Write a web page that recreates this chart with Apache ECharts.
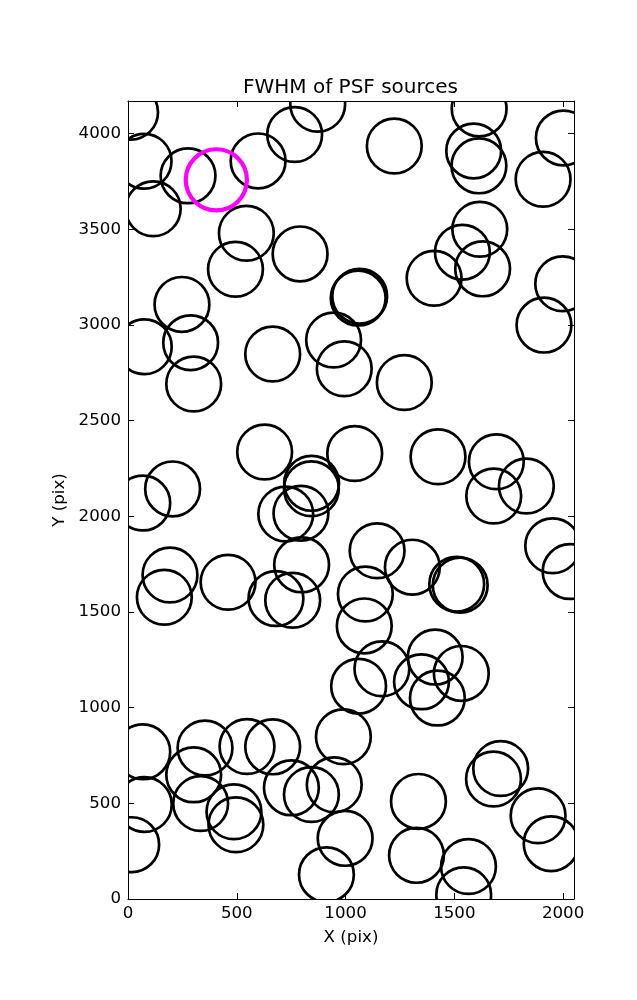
<!DOCTYPE html>
<html>
<head>
<meta charset="utf-8">
<script src="https://cdn.jsdelivr.net/npm/echarts@6/dist/echarts.min.js"></script>
<style>
  html, body { margin: 0; padding: 0; background: #fff; }
  #chart { width: 637px; height: 1000px; }
</style>
</head>
<body>
<div id="chart"></div>
<script>
// Source positions (detector pixels)
var sourceX = [12, 74, 276, 116, 598, 766, 872, 1224, 1614, 1589, 1613, 2001, 1908,
  544, 494, 791, 1617, 1537, 1630, 1407, 1058, 1065, 1998, 248, 288, 75, 302, 665, 945, 994, 1270, 1912,
  628, 1042, 1425, 1693, 1681, 1831, 205, 68, 844, 843, 725, 795, 1952, 2032, 1145, 1307, 798, 193, 167,
  460, 680, 757, 1091, 1511, 1527, 1086, 1167, 1060, 1412, 1532, 1349, 1422,
  990, 68, 354, 547, 665, 302, 75, 334, 487, 496, 17, 751, 843, 948, 998, 912, 1335, 1326, 1565, 1543,
  1713, 1680, 1885, 1945];
var sourceY = [4111, 3855, 3779, 3607, 3857, 3995, 4153, 3935, 4129, 3909, 3831, 3977, 3761,
  3479, 3291, 3371, 3500, 3380, 3293, 3244, 3140, 3150, 3215, 3107, 2907, 2886, 2691, 2848, 2921, 2771, 2699, 2999,
  2336, 2328, 2311, 2285, 2106, 2158, 2143, 2069, 2172, 2144, 2012, 2016, 1846, 1711, 1820, 1734, 1746, 1693, 1577,
  1655, 1570, 1561, 1594, 1645, 1640, 1427, 1203, 1112, 1264, 1179, 1135, 1050,
  848, 769, 789, 797, 795, 649, 494, 499, 456, 388, 284, 581, 546, 597, 317, 127, 510, 228, 170, 22,
  682, 627, 435, 289];
// Highlighted source
var flaggedX = [406];
var flaggedY = [3758];
// Axis ticks
var xTicks = [0, 500, 1000, 1500, 2000];
var yTicks = [0, 500, 1000, 1500, 2000, 2500, 3000, 3500, 4000];
var xMax = 2050, yMax = 4170;

var FONT = 'DejaVu Sans';
function pairs(xs, ys) { return xs.map(function (x, i) { return [x, ys[i]]; }); }
function ringRenderer(r, color, lw) {
  return function (params, api) {
    var p = api.coord([api.value(0), api.value(1)]);
    return { type: 'circle', shape: { cx: p[0], cy: p[1], r: r },
      style: { fill: 'none', stroke: color, lineWidth: lw } };
  };
}
function tickFmt(list) { return function (v) { return list.indexOf(v) >= 0 ? String(v) : ''; }; }

var axisLine = { show: true, onZero: false, lineStyle: { color: '#000', width: 1 } };
var tick = { show: true, inside: true, length: 6, lineStyle: { color: '#000', width: 1 } };
var label = { color: '#000', fontFamily: FONT, fontSize: 16.67 };

var chart = echarts.init(document.getElementById('chart'), null, { renderer: 'canvas' });
chart.setOption({
  animation: false,
  backgroundColor: '#fff',
  title: { text: 'FWHM of PSF sources', left: 243, top: 78, padding: 0,
    textStyle: { fontFamily: FONT, fontSize: 20, fontWeight: 'normal', color: '#000' } },
  grid: { left: 128, top: 101, width: 446, height: 798 },
  xAxis: [
    { type: 'value', position: 'bottom', min: 0, max: xMax, interval: 500,
      axisLine: axisLine, axisTick: tick, splitLine: { show: false },
      axisLabel: Object.assign({ margin: 6, showMaxLabel: false, formatter: tickFmt(xTicks) }, label),
      name: 'X (pix)', nameLocation: 'middle', nameGap: 30,
      nameTextStyle: { fontFamily: FONT, fontSize: 16.67, color: '#000' } },
    { type: 'value', position: 'top', min: 0, max: xMax, interval: 500,
      axisLine: axisLine, axisTick: tick, splitLine: { show: false }, axisLabel: { show: false } }
  ],
  yAxis: [
    { type: 'value', position: 'left', min: 0, max: yMax, interval: 500,
      axisLine: axisLine, axisTick: tick, splitLine: { show: false },
      axisLabel: Object.assign({ margin: 7, showMaxLabel: false, formatter: tickFmt(yTicks) }, label),
      name: 'Y (pix)', nameLocation: 'middle', nameGap: 53,
      nameTextStyle: { fontFamily: FONT, fontSize: 16.67, color: '#000' } },
    { type: 'value', position: 'right', min: 0, max: yMax, interval: 500,
      axisLine: axisLine, axisTick: tick, splitLine: { show: false }, axisLabel: { show: false } }
  ],
  series: [
    { type: 'custom', name: 'sources', clip: true, xAxisIndex: 0, yAxisIndex: 0,
      data: pairs(sourceX, sourceY), renderItem: ringRenderer(27.4, '#000', 2.7) },
    { type: 'custom', name: 'flagged', clip: true, xAxisIndex: 0, yAxisIndex: 0,
      data: pairs(flaggedX, flaggedY), renderItem: ringRenderer(30.6, '#ff00ff', 4.2) }
  ]
});
</script>
</body>
</html>
